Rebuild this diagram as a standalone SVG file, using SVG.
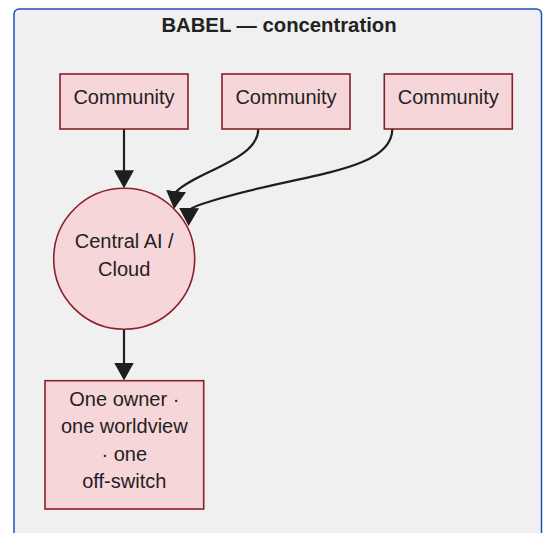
<svg xmlns="http://www.w3.org/2000/svg" width="543" height="533" viewBox="0 0 543 533">
<style>
.cluster{fill:#f0f0f0;stroke:#1f52b8;stroke-width:1.5}
.title{font-family:"Liberation Sans",Arial,sans-serif;font-size:20.3px;font-weight:bold;fill:#222;text-anchor:middle}
.node rect,.node circle{fill:#f7d6da;stroke:#8a1f2b;stroke-width:1.6}
.node text{font-family:"Liberation Sans",Arial,sans-serif;font-size:20px;fill:#222;text-anchor:middle}
.edges path{fill:none;stroke:#1e1e1e;stroke-width:2.2}
</style>
<defs>
<marker id="arrow" viewBox="0 0 18 20" markerUnits="userSpaceOnUse" markerWidth="18" markerHeight="20" refX="15" refY="10" orient="auto">
<path d="M0,0 L18,10 L0,20 z" fill="#1e1e1e"/>
</marker>
</defs>
<rect class="cluster" x="14" y="9" width="527.5" height="600" rx="5"/>
<text class="title" x="279" y="32.3">BABEL — concentration</text>
<g class="edges">
<path d="M124,129 L124,185.3" marker-end="url(#arrow)"/>
<path d="M258.3,129 C258.3,160 195,172 176,192 L174.4,206" marker-end="url(#arrow)"/>
<path d="M392.3,129 C392.3,172 300,174 218,199 C206,203 195,205 189,210 L188.7,223" marker-end="url(#arrow)"/>
<path d="M124,329.3 L124,377.5" marker-end="url(#arrow)"/>
</g>
<g id="c1" class="node">
<rect x="60" y="74" width="128" height="55"/>
<text x="124" y="103.5">Community</text>
</g>
<g id="c2" class="node">
<rect x="222" y="74" width="128" height="55"/>
<text x="286" y="103.5">Community</text>
</g>
<g id="c3" class="node">
<rect x="384.3" y="74" width="128" height="55"/>
<text x="448.3" y="103.5">Community</text>
</g>
<g id="central" class="node">
<circle cx="124.2" cy="258.8" r="70.5"/>
<text x="124.2" y="248.3">Central AI /</text>
<text x="124.2" y="275.7">Cloud</text>
</g>
<g id="owner" class="node">
<rect x="45" y="380.7" width="158.7" height="128.3"/>
<text x="124.3" y="406">One owner ·</text>
<text x="124.3" y="433.4">one worldview</text>
<text x="124.3" y="460.9">· one</text>
<text x="124.3" y="488.3">off-switch</text>
</g>
</svg>
